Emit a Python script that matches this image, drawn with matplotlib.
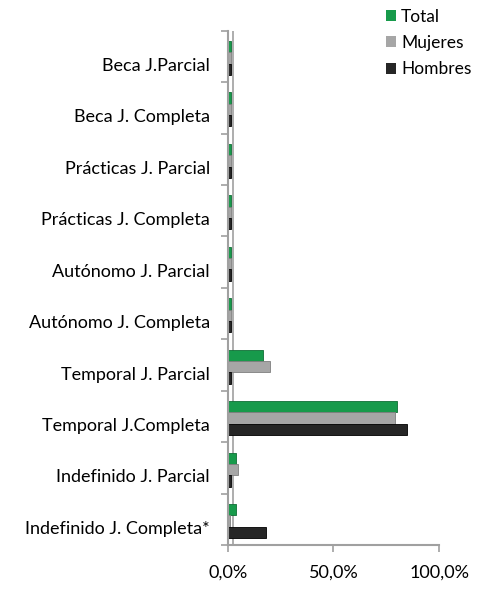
import numpy as np
import matplotlib.pyplot as plt
import matplotlib.transforms as mtransforms
from matplotlib.patches import Patch

plt.rcParams['font.family'] = ['Lato', 'DejaVu Sans']

# Datos (de abajo hacia arriba)
categorias = ['Indefinido J. Completa*', 'Indefinido J. Parcial', 'Temporal J.Completa',
              'Temporal J. Parcial', 'Autónomo J. Completa', 'Autónomo J. Parcial',
              'Prácticas J. Completa', 'Prácticas J. Parcial', 'Beca J. Completa',
              'Beca J.Parcial']
total   = [4.0, 4.0, 80.0, 16.5, 1.5, 1.5, 1.5, 1.5, 1.5, 1.5]
mujeres = [0.8, 5.0, 79.0, 20.0, 1.5, 1.5, 1.5, 1.5, 1.5, 1.5]
hombres = [18.0, 1.5, 85.0, 1.5, 1.5, 1.5, 1.5, 1.5, 1.5, 1.5]
xticks_lab = ['0,0%', '50,0%', '100,0%']

verde = '#179a4b'
gris = '#a6a6a6'
negro = '#262626'
linea = '#a0a0a0'

fig = plt.figure(figsize=(4.9, 5.9), dpi=100)
ax = fig.add_axes([0.465, 0.076, 0.431, 0.872])

y = np.arange(len(categorias))
h = 0.22
ax.barh(y + 0.19, total, height=h, color=verde, edgecolor='#0f6e35', linewidth=0.6, zorder=2)
ax.barh(y - 0.03, mujeres, height=h, color=gris, edgecolor='#7f7f7f', linewidth=0.6, zorder=2)
ax.barh(y - 0.25, hombres, height=h, color=negro, edgecolor='#000000', linewidth=0.6, zorder=2)

ax.set_xlim(0, 100)
ax.set_ylim(-0.5, len(categorias) - 0.5)
ax.set_xticks([0, 50, 100])
ax.set_xticklabels(xticks_lab, fontsize=13)

# ticks de separacion en los limites de categoria
ax.set_yticks(y)
ax.set_yticklabels(categorias, fontsize=13)
ax.set_yticks(np.arange(-0.5, len(categorias), 1), minor=True)
ax.tick_params(axis='y', which='major', length=0, pad=13)
ax.tick_params(axis='y', which='minor', length=5, color=linea, width=1.2)
ax.tick_params(axis='x', length=5, color=linea, width=1.2, pad=9)

# bajar un poco las etiquetas (efecto 3D)
desplaza = mtransforms.ScaledTranslation(0, -8 / 100, fig.dpi_scale_trans)
for lab in ax.get_yticklabels():
    lab.set_transform(lab.get_transform() + desplaza)

for s in ['top', 'right']:
    ax.spines[s].set_visible(False)
for s in ['left', 'bottom']:
    ax.spines[s].set_color(linea)
    ax.spines[s].set_linewidth(1.5)

# pared del fondo
ax.axvline(2.6, color=linea, lw=1.2, zorder=1)

leyenda = [Patch(facecolor=verde, label='Total'),
           Patch(facecolor=gris, label='Mujeres'),
           Patch(facecolor=negro, label='Hombres')]
fig.legend(handles=leyenda, loc='upper left', bbox_to_anchor=(0.755, 1.012),
           frameon=False, fontsize=12.5, handlelength=0.6, handleheight=0.6,
           handletextpad=0.3, labelspacing=0.6)

plt.savefig('out.png', dpi=100)
